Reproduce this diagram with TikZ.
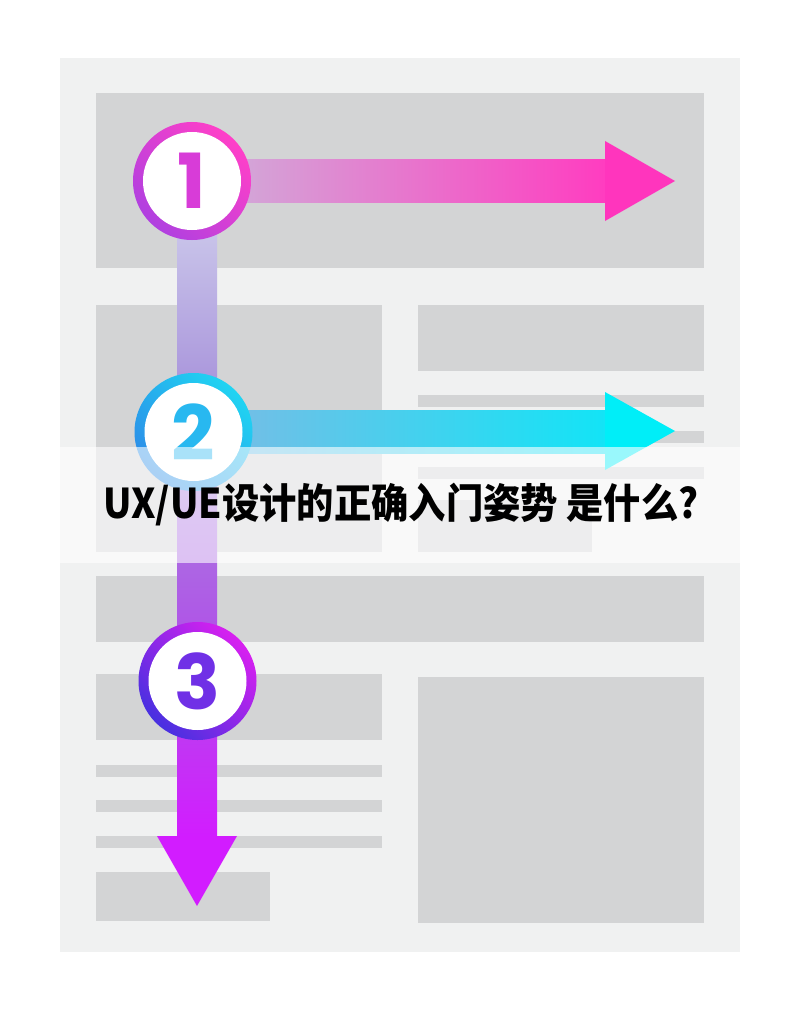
\documentclass[tikz,border=0pt]{standalone}
\usepackage{fontspec}
\newfontfamily\numfont{Poppins}
\newfontfamily\cjk{Noto Sans CJK SC}
\definecolor{panel}{HTML}{F0F1F1}
\definecolor{block}{HTML}{D3D4D5}
\definecolor{pinkA}{HTML}{D2A8D8}
\definecolor{pinkB}{HTML}{FF3CC0}
\definecolor{pinkHead}{HTML}{FF35BD}
\definecolor{cyanA}{HTML}{74BEE6}
\definecolor{cyanB}{HTML}{12E4F6}
\definecolor{cyanHead}{HTML}{00EEF8}
\definecolor{vA}{HTML}{CAC6EA}
\definecolor{vB}{HTML}{A690DA}
\definecolor{vC}{HTML}{B050E8}
\definecolor{vD}{HTML}{D21CFF}
\definecolor{ring1a}{HTML}{FF40C8}
\definecolor{ring1b}{HTML}{B040E0}
\definecolor{ring2a}{HTML}{20D4F2}
\definecolor{ring2b}{HTML}{2C8CE8}
\definecolor{ring3a}{HTML}{D820F0}
\definecolor{ring3b}{HTML}{4830E0}
\definecolor{num1}{HTML}{D83CD8}
\definecolor{num2}{HTML}{28B8F0}
\definecolor{num3}{HTML}{7030E6}
\begin{document}
\begin{tikzpicture}[x=1pt,y=1pt,
  blk/.style={fill=block},
  numcircle/.style={circle, fill=white, minimum size=98pt, inner sep=0pt,
    font=\numfont\bfseries\fontsize{76}{76}\selectfont},
]
\useasboundingbox (0,0) rectangle (800,-1011);
\fill[white] (0,0) rectangle (800,-1011);
% panel
\fill[panel] (60,-58) rectangle (740,-952);
% blocks
\fill[blk] (96,-93) rectangle (704,-268);
\fill[blk] (96,-305) rectangle (382,-552);
\fill[blk] (418,-305) rectangle (704,-371);
\fill[blk] (418,-395) rectangle (704,-407);
\fill[blk] (418,-431) rectangle (704,-443);
\fill[blk] (418,-467) rectangle (704,-479);
\fill[blk] (418,-500) rectangle (592,-552);
\fill[blk] (96,-576) rectangle (704,-642);
\fill[blk] (96,-674) rectangle (382,-740);
\fill[blk] (96,-765) rectangle (382,-777);
\fill[blk] (96,-800) rectangle (382,-812);
\fill[blk] (96,-836) rectangle (382,-848);
\fill[blk] (96,-872) rectangle (270,-921);
\fill[blk] (418,-677) rectangle (704,-923);
% vertical arrow
\shade[top color=vA, bottom color=vB] (177,-225) rectangle (217,-405);
\shade[top color=vB, bottom color=vC] (177,-400) rectangle (217,-650);
\shade[top color=vC, bottom color=vD] (177,-645) rectangle (217,-838);
\fill[vD] (157,-836) -- (237,-836) -- (197,-906) -- cycle;
% arrow 1
\shade[left color=pinkA, right color=pinkB] (232,-160) rectangle (607,-202);
\fill[pinkHead] (605,-141) -- (675,-181) -- (605,-221) -- cycle;
% arrow 2
\shade[left color=cyanA, right color=cyanB] (232,-410) rectangle (607,-453);
\fill[cyanHead] (605,-392) -- (675,-431) -- (605,-470) -- cycle;
% circles
\coordinate (p1) at (192,-181);
\coordinate (p2) at (193.5,-432);
\coordinate (p3) at (197.5,-681);
\shade[top color=ring1a, bottom color=ring1b, shading angle=-45] (p1) circle[radius=59];
\node[numcircle, text=num1] (c1) at (p1) {1};
\shade[top color=ring2a, bottom color=ring2b, shading angle=-45] (p2) circle[radius=59];
\node[numcircle, text=num2] (c2) at (p2) {2};
\shade[top color=ring3a, bottom color=ring3b, shading angle=-45] (p3) circle[radius=59];
\node[numcircle, text=num3] (c3) at (p3) {3};
% band
\fill[white, fill opacity=0.6] (0,-447) rectangle (800,-563);
% title
\node[font=\cjk\bfseries\fontsize{41}{41}\selectfont, xscale=0.91, inner sep=0pt] (title) at (401,-505) {UX/UE设计的正确入门姿势 是什么?};
\end{tikzpicture}
\end{document}
